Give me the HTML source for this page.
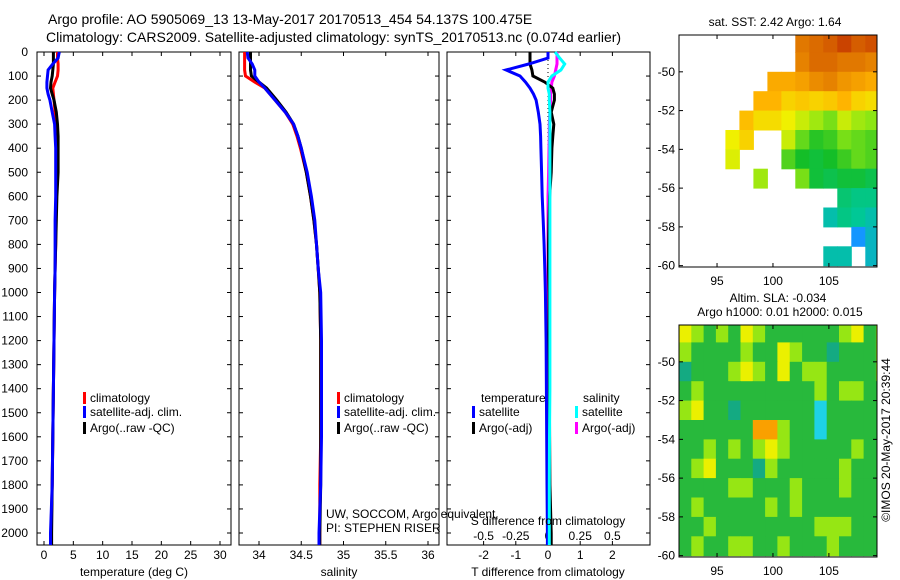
<!DOCTYPE html>
<html><head><meta charset="utf-8">
<style>
html,body{margin:0;padding:0;background:#fff;}
svg{display:block;font-family:"Liberation Sans",sans-serif;}
text{fill:#000;}
</style></head>
<body>
<svg id="fig" width="900" height="580" viewBox="0 0 900 580" xmlns="http://www.w3.org/2000/svg">
<text x="48" y="24" font-size="14">Argo profile: AO 5905069_13 13-May-2017 20170513_454 54.137S 100.475E</text>
<text x="46" y="42" font-size="14">Climatology: CARS2009. Satellite-adjusted climatology: synTS_20170513.nc (0.074d earlier)</text>
<g id="plots"></g>
<text x="775" y="26" font-size="12" text-anchor="middle">sat. SST: 2.42 Argo: 1.64</text>
<text x="778" y="302" font-size="12" text-anchor="middle">Altim. SLA: -0.034</text>
<text x="780" y="316" font-size="12" text-anchor="middle">Argo h1000: 0.01 h2000: 0.015</text>
<text x="0" y="0" font-size="12" text-anchor="middle" transform="translate(890,440) rotate(-90)">©IMOS 20-May-2017 20:39:44</text>
</svg>
<script>
// ---- profile data ----
const depths = [0,25,50,75,100,125,150,175,200,250,300,350,400,500,600,700,800,900,1000,1200,1400,1600,1800,2000,2050];
const tempClim = [2.3,2.3,2.4,2.4,2.3,1.9,1.5,1.6,1.7,1.9,2.0,2.1,2.2,2.2,2.1,2.0,2.0,1.9,1.8,1.7,1.6,1.5,1.4,1.2,1.2];
const tempSat  = [2.6,2.4,1.5,0.7,0.6,0.5,0.5,0.7,1.0,1.4,1.8,1.9,2.0,2.0,2.0,1.9,1.9,1.9,1.8,1.7,1.6,1.5,1.4,1.1,1.1];
const tempArgo = [1.6,1.6,1.6,1.5,1.4,1.2,1.1,1.4,1.7,2.1,2.3,2.4,2.4,2.4,2.2,2.1,2.0,1.9,1.8,1.7,1.6,1.5,1.4,1.3,1.3];
const salClim  = [33.83,33.83,33.83,33.83,33.84,33.95,34.07,34.13,34.19,34.31,34.40,34.45,34.49,34.56,34.61,34.65,34.68,34.70,34.72,34.73,34.73,34.73,34.72,34.72,34.72];
const salSat   = [33.86,33.87,33.92,33.95,33.95,34.00,34.07,34.13,34.19,34.31,34.41,34.46,34.50,34.57,34.62,34.66,34.68,34.70,34.73,34.74,34.74,34.74,34.73,34.71,34.71];
const salArgo  = [33.90,33.90,33.90,33.90,33.91,34.00,34.09,34.15,34.21,34.32,34.41,34.46,34.50,34.56,34.61,34.65,34.68,34.70,34.72,34.73,34.73,34.73,34.73,34.72,34.72];
const dTsat  = [0,0,-0.6,-1.3,-0.87,-0.7,-0.56,-0.45,-0.37,-0.3,-0.25,-0.23,-0.22,-0.2,-0.18,-0.15,-0.12,-0.1,-0.08,-0.06,-0.05,-0.04,-0.03,-0.02,-0.02];
const dTargo = [-0.56,-0.56,-0.56,-0.5,-0.47,-0.1,0.15,0.2,0.2,0.1,0.18,0.15,0.12,0.1,0.05,0.03,0.02,0.02,0.03,0.03,0.04,0.05,0.06,0.1,0.1];
const dSsat  = [0.055,0.09,0.13,0.1,0.03,0.0,0.0,0.01,0.01,0.015,0.015,0.015,0.015,0.015,0.015,0.015,0.015,0.015,0.015,0.015,0.015,0.012,0.01,0.01,0.01];
const dSargo = [0.07,0.07,0.07,0.06,0.05,0.03,0.025,0.02,0.02,0.015,0.01,0.01,0.008,0.005,0.0,0.0,0.0,0.0,0.0,0.0,0.0,0.0,0.0,0.0,0.0];
const depthTicks = [0,100,200,300,400,500,600,700,800,900,1000,1100,1200,1300,1400,1500,1600,1700,1800,1900,2000];
const tempTicks = [0,5,10,15,20,25,30];
const salTicks = [34,34.5,35,35.5,36];
const salTickLabels = ["34","34.5","35","35.5","36"];
const dTTicks = [-2,-1,0,1,2];
const dSTicks = [-0.5,-0.25,0,0.25,0.5];
const dSTickLabels = ["-0.5","-0.25","0","0.25","0.5"];
// ---- map data ----
const sstLons = [92,93.25,94.5,95.75,97,98.25,99.5,100.75,102,103.25,104.5,105.75,107,108.25];
const sstLats = [-48,-49,-50,-51,-52,-53,-54,-55,-56,-57,-58,-59];
const n = null;
const sstGrid = [
 [n,n,n,n,n,n,n,n,4.4,4.5,4.6,4.8,4.6,4.7],
 [n,n,n,n,n,n,n,n,4.3,4.5,4.5,4.4,4.4,4.3],
 [n,n,n,n,n,n,3.9,3.9,4.0,4.2,4.3,4.1,4.0,3.9],
 [n,n,n,n,n,3.8,3.8,3.5,3.6,3.5,3.6,3.8,3.5,3.4],
 [n,n,n,n,3.7,3.4,3.4,3.2,3.0,2.8,2.6,3.0,2.8,2.7],
 [n,n,n,3.2,3.5,n,n,3.0,2.5,2.2,2.3,2.6,2.5,2.4],
 [n,n,n,3.1,n,n,n,2.4,2.1,2.0,2.1,2.3,2.5,2.4],
 [n,n,n,n,n,2.8,n,n,2.6,2.0,1.9,2.0,2.0,1.9],
 [n,n,n,n,n,n,n,n,n,n,n,1.7,1.6,1.6],
 [n,n,n,n,n,n,n,n,n,n,1.4,1.6,1.5,1.4],
 [n,n,n,n,n,n,n,n,n,n,n,n,1.0,1.3],
 [n,n,n,n,n,n,n,n,n,n,1.4,1.4,n,1.3]
];
const slaLons = [91.6,92.7,93.8,94.9,96,97.1,98.2,99.3,100.4,101.5,102.6,103.7,104.8,105.9,107,108.1,109.2];
const slaLats = [-48,-49,-50,-51,-52,-53,-54,-55,-56,-57,-58,-59];
const slaGrid = [
 [2,1,0,1,0,2,1,0,0,0,0,0,0,1,2,0,1],
 [1,0,0,0,0,1,0,0,2,1,0,0,-1,0,0,0,1],
 [-1,0,0,0,1,2,1,0,2,0,1,1,0,0,0,0,1],
 [0,1,0,0,0,0,0,0,0,0,0,1,0,1,1,0,0],
 [1,2,0,0,-1,0,0,0,0,0,0,-2,0,0,0,0,0],
 [0,0,0,0,0,0,3,3,1,0,0,-2,0,0,0,0,0],
 [0,0,1,0,1,0,1,2,1,0,0,0,0,0,1,0,0],
 [0,1,2,0,0,0,-1,1,0,0,0,0,0,1,0,0,0],
 [0,0,0,0,1,1,0,0,0,1,0,0,0,1,0,0,0],
 [0,1,0,0,0,0,0,1,0,1,0,0,0,0,0,0,0],
 [0,0,1,0,0,0,0,0,0,0,0,1,1,1,0,0,0],
 [0,1,0,0,1,1,0,0,1,0,0,0,1,0,0,0,0]
];
const mapLatTicks = [-50,-52,-54,-56,-58,-60];
const mapLonTicks = [95,100,105];

const NS = "http://www.w3.org/2000/svg";
const root = document.getElementById('plots');
function mk(tag, attrs, parent){ const e=document.createElementNS(NS,tag); for(const k in attrs) e.setAttribute(k,attrs[k]); (parent||root).appendChild(e); return e; }
function txt(x,y,s,anchor,parent,size){ const t=mk('text',{x:x,y:y,'font-size':size||12,'text-anchor':anchor||'middle'},parent); t.textContent=s; return t; }

const yTop=52, yBot=545;
const yD = d => yTop + d*(533-yTop)/2000;

function panel(name,x0,x1,xs){
  const g = mk('g',{});
  
  
  const r = mk('rect',{x:x0,y:yTop,width:x1-x0,height:yBot-yTop,fill:'none',stroke:'#000','stroke-width':1},g);
  
  
  depthTicks.forEach(d=>{
    mk('line',{x1:x0,x2:x0+4,y1:yD(d),y2:yD(d),stroke:'#000'},g);
    mk('line',{x1:x1,x2:x1-4,y1:yD(d),y2:yD(d),stroke:'#000'},g);
  });
  return g;
}
function series(g,name,xs,vals,color){
  const pts = vals.map((v,i)=>xs(v).toFixed(1)+','+yD(depths[i]).toFixed(1)).join(' ');
  const p = mk('polyline',{points:pts,fill:'none',stroke:color,'stroke-width':3,'stroke-linejoin':'miter'},g);
  
  
}
function xticks(g,x0,x1,xs,ticks,labels,yl,top){
  ticks.forEach((t,i)=>{
    const x=xs(t);
    mk('line',{x1:x,x2:x,y1:yBot,y2:yBot-4,stroke:'#000'},g);
    if(top) mk('line',{x1:x,x2:x,y1:yTop,y2:yTop+4,stroke:'#000'},g);
    const l = txt(x,yl,labels[i],'middle',g);
    
    
  });
}
function legend(g,x,y,color,label){
  mk('rect',{x:x,y:y-10,width:3,height:12,fill:color},g);
  const t = txt(x+7,y,label,'start',g);
  
  
}

depthTicks.forEach(d=>{
  const t = txt(28,yD(d)+4,String(d),'end');
  
  
});

const xT = v => 44 + v*(220-44)/30;
const g1 = panel('temperature-panel',37,231,xT);
xticks(g1,37,231,xT,tempTicks,tempTicks.map(String),559,true);
series(g1,'temp-climatology-line',xT,tempClim,'#f00');
series(g1,'temp-argo-line',xT,tempArgo,'#000');
series(g1,'temp-satellite-line',xT,tempSat,'#00f');
txt(134,576,'temperature (deg C)','middle',g1);
legend(g1,83,402,'#f00','climatology');
legend(g1,83,416,'#00f','satellite-adj. clim.');
legend(g1,83,432,'#000','Argo(..raw -QC)');

const xS = v => 259 + (v-34)*(428-259)/2;
const g2 = panel('salinity-panel',239,439,xS);
xticks(g2,239,439,xS,salTicks,salTickLabels,559,true);
series(g2,'sal-climatology-line',xS,salClim,'#f00');
series(g2,'sal-argo-line',xS,salArgo,'#000');
series(g2,'sal-satellite-line',xS,salSat,'#00f');
txt(339,576,'salinity','middle',g2);
legend(g2,337,402,'#f00','climatology');
legend(g2,337,416,'#00f','satellite-adj. clim.');
legend(g2,337,432,'#000','Argo(..raw -QC)');
txt(326,518,'UW, SOCCOM, Argo equivalent','start',g2);
txt(326,532,'PI: STEPHEN RISER','start',g2);

const xDT = v => 548 + v*32.2;
const xDS = v => 548 + v*4*32.2;
const g3 = panel('difference-panel',447,650,xDT);
xticks(g3,447,650,xDT,dTTicks,dTTicks.map(String),559,true);
dSTicks.forEach((t,i)=>{ const l=txt(xDS(t),540,dSTickLabels[i],'middle',g3);   });
mk('line',{x1:xDT(0),x2:xDT(0),y1:yTop,y2:yBot,stroke:'#000','stroke-dasharray':'1,3'},g3);
series(g3,'s-diff-argo-line',xDS,dSargo,'#f0f');
series(g3,'t-diff-argo-line',xDT,dTargo,'#000');
series(g3,'t-diff-satellite-line',xDT,dTsat,'#00f');
series(g3,'s-diff-satellite-line',xDS,dSsat,'#0ff');
txt(548,576,'T difference from climatology','middle',g3);
txt(548,525,'S difference from climatology','middle',g3);
txt(481,402,'temperature','start',g3);
txt(583,402,'salinity','start',g3);
legend(g3,472,416,'#00f','satellite');
legend(g3,472,432,'#000','Argo(-adj)');
legend(g3,575,416,'#0ff','satellite');
legend(g3,575,432,'#f0f','Argo(-adj)');

const mX0=679, mX1=877;
const lonX = l => mX0 + (l-91.6)*(mX1-mX0)/(109.3-91.6);
function latY(top,bot){ return l => top + (-48.1 - l)*(bot-top)/(60.07-48.1); }
function lerpColor(stops,v){
  if(v<=stops[0][0]) return stops[0][1];
  for(let i=1;i<stops.length;i++){ if(v<=stops[i][0]){ const a=stops[i-1],b=stops[i],f=(v-a[0])/(b[0]-a[0]);
    const c=a[1].map((x,j)=>Math.round(x+(b[1][j]-x)*f)); return c; } }
  return stops[stops.length-1][1];
}
const sstStops=[[1.0,[20,150,255]],[1.5,[0,200,150]],[2.1,[20,190,40]],[2.7,[140,230,20]],[3.2,[240,240,0]],[3.8,[255,180,0]],[4.4,[225,120,0]],[5.0,[190,40,0]]];
const slaStops=[[-2,[30,210,230]],[-1,[20,170,130]],[0,[40,185,60]],[1,[150,230,20]],[2,[235,240,0]],[3,[250,160,0]]];

function mapBox(name,top,bot,lonArr,latArr,grid,stops,cw){
  const ly = latY(top,bot);
  const g = mk('g',{});
  
  
  const clip = mk('clipPath',{id:name+'-clip'},g);
  mk('rect',{x:mX0,y:top,width:mX1-mX0,height:bot-top},clip);
  const cells = mk('g',{'clip-path':'url(#'+name+'-clip)'},g);
  grid.forEach((row,i)=>row.forEach((v,j)=>{
    if(v===null) return;
    const c = lerpColor(stops,v);
    const x=lonX(lonArr[j]), y=ly(latArr[i]);
    const r = mk('rect',{x:x.toFixed(1),y:y.toFixed(1),width:(lonX(lonArr[j]+cw)-x+0.5).toFixed(1),height:(ly(latArr[i]-1)-y+0.5).toFixed(1),fill:'rgb('+c.join(',')+')'},cells);
    
    
  }));
  mk('rect',{x:mX0,y:top,width:mX1-mX0,height:bot-top,fill:'none',stroke:'#000'},g);
  mapLatTicks.forEach(t=>{
    const y=ly(t);
    mk('line',{x1:mX0,x2:mX0+4,y1:y,y2:y,stroke:'#000'},g);
    mk('line',{x1:mX1,x2:mX1-4,y1:y,y2:y,stroke:'#000'},g);
    const l=txt(mX0-4,y+4,String(t),'end',g);  
  });
  mapLonTicks.forEach(t=>{
    const x=lonX(t);
    mk('line',{x1:x,x2:x,y1:bot,y2:bot-4,stroke:'#000'},g);
    mk('line',{x1:x,x2:x,y1:top,y2:top+4,stroke:'#000'},g);
    const l=txt(x,bot+18,String(t),'middle',g);  
  });
}
mapBox('sst-map',35,267,sstLons,sstLats,sstGrid,sstStops,1.25);
mapBox('sla-map',325,557,slaLons,slaLats,slaGrid,slaStops,1.1);
</script>
</body></html>
